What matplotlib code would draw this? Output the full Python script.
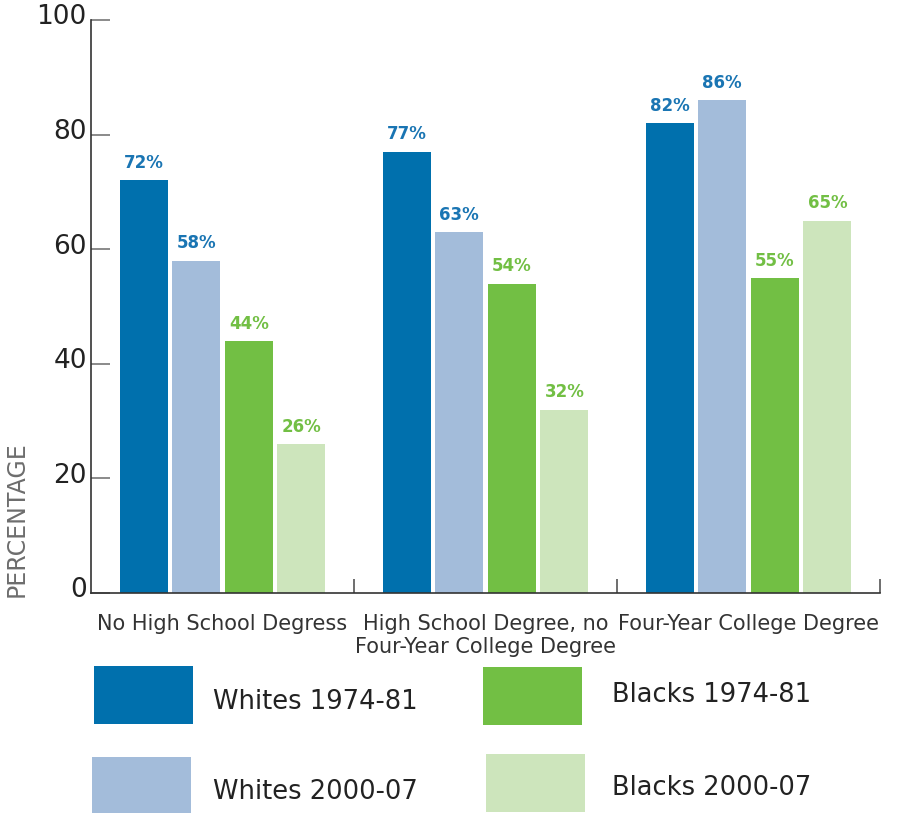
import numpy as np
import matplotlib.pyplot as plt
import matplotlib.transforms as mtransforms
from matplotlib.patches import Rectangle

categories = ["No High School Degress",
              "High School Degree, no\nFour-Year College Degree",
              "Four-Year College Degree"]
series = ["Whites 1974-81", "Whites 2000-07", "Blacks 1974-81", "Blacks 2000-07"]
whites_7481 = [72, 77, 82]
whites_0007 = [58, 63, 86]
blacks_7481 = [44, 54, 55]
blacks_0007 = [26, 32, 65]

colors = ["#0070ad", "#a3bcda", "#72bf44", "#cde5bc"]
label_colors = ["#1a75b3", "#1a75b3", "#72bf44", "#72bf44"]

W, H = 901, 813
fig = plt.figure(figsize=(W/100, H/100), dpi=100)
ax = fig.add_axes([91/W, 220/H, 789/W, 573/H])

x = np.arange(len(categories))
offsets = [-0.3, -0.1, 0.1, 0.3]
width = 0.1825
for vals, off, c, lc in zip([whites_7481, whites_0007, blacks_7481, blacks_0007],
                            offsets, colors, label_colors):
    bars = ax.bar(x + off, vals, width, color=c)
    for b, v in zip(bars, vals):
        ax.annotate(f"{v}%", (b.get_x() + b.get_width()/2, v), xytext=(0, 6),
                    textcoords="offset points", ha="center", va="bottom",
                    fontsize=12, fontweight="bold", color=lc)

ax.set_xlim(-0.5, 2.5)
ax.set_ylim(0, 100)

for s in ["top", "right"]:
    ax.spines[s].set_visible(False)
for s in ["left", "bottom"]:
    ax.spines[s].set_color("#333333")
    ax.spines[s].set_linewidth(1.2)

ax.set_yticks([0, 20, 40, 60, 80, 100])
ax.tick_params(axis="y", direction="in", length=14, width=1.2, color="#777777",
               pad=3, labelsize=19, labelcolor="#222222")
shift = mtransforms.ScaledTranslation(0, 4/72, fig.dpi_scale_trans)
for lab in ax.get_yticklabels():
    lab.set_transform(lab.get_transform() + shift)

ax.set_xticks(x)
ax.set_xticklabels(categories, fontsize=15, color="#333333", linespacing=1.2)
ax.tick_params(axis="x", which="major", length=0, pad=15)
ax.set_xticks([0.5, 1.5, 2.5], minor=True)
ax.tick_params(axis="x", which="minor", direction="in", length=10, width=1.2,
               color="#555555")

fig.text(17/W, 1 - 597/H, "PERCENTAGE", rotation=90, ha="center", va="bottom",
         fontsize=17, color="#6d6d6d")

# legend drawn by hand: (left, top, right, bottom) of each swatch, text x and baseline
swatches = [(94, 666, 193, 724), (92, 757, 191, 813), (483, 667, 582, 725), (486, 754, 585, 812)]
texts = [(213, 709), (213, 799), (612, 702), (612, 795)]
for (l, t, r, b), (tx, ty), c, name in zip(swatches, texts, colors, series):
    fig.add_artist(Rectangle((l/W, 1 - b/H), (r - l)/W, (b - t)/H, transform=fig.transFigure,
                             facecolor=c, edgecolor="none"))
    fig.text(tx/W, 1 - ty/H, name, ha="left", va="baseline", fontsize=18.5, color="#222222")

fig.savefig("out.png", dpi=100)
